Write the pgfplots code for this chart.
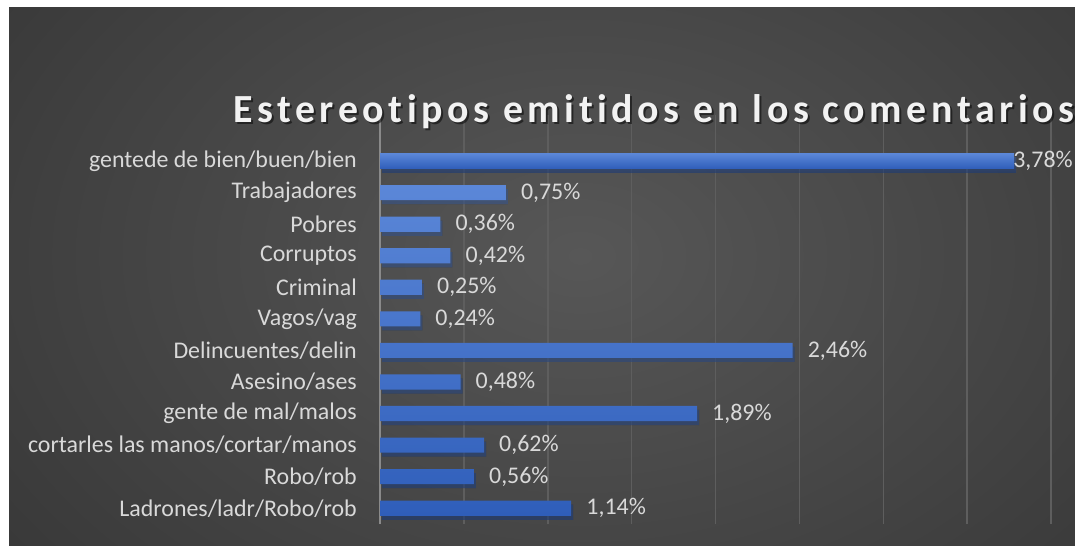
\documentclass[border=0pt]{standalone}
\usepackage{fontspec}
\setmainfont{Carlito}[Ligatures={NoCommon}]
\usepackage{pgfplots}
\pgfplotsset{compat=1.18}
\definecolor{bgin}{HTML}{575757}
\definecolor{bgout}{HTML}{262626}
\definecolor{bartop}{HTML}{5B87D8}
\definecolor{barbot}{HTML}{2F5EBA}
\definecolor{gridc}{HTML}{5E5E5E}
\definecolor{axisc}{HTML}{8A8A8A}
\definecolor{txt}{HTML}{D9D9D9}
\newcommand{\lblfont}{\fontsize{24}{26}\selectfont}
\newcommand{\ttlfont}{\fontsize{40}{44}\selectfont\bfseries
    \addfontfeature{LetterSpace=11.5,Ligatures=NoCommon}}

\begin{document}
\begin{tikzpicture}
\useasboundingbox (0,0) rectangle (1075bp,546bp);
\fill[white] (0,0) rectangle (1075bp,546bp);
\begin{scope}
  \clip (9bp,0) rectangle (1075bp,538bp);
  \fill[bgout] (9bp,0) rectangle (1075bp,538bp);
  \shade[inner color=bgin, outer color=bgout] (580bp,290bp) ellipse (1150bp and 800bp);
\end{scope}

\begin{axis}[
    at={(380bp,22bp)}, anchor=south west,
    scale only axis, width=671bp, height=409bp,
    xbar, bar width=0.48, bar shift=0pt,
    xmin=0, xmax=4, ymin=0.5, ymax=13.46,
    xtick={0.5,1,...,4}, xticklabels={},
    xmajorgrids, grid style={gridc, line width=1.5bp},
    extra x ticks={0}, extra x tick labels={},
    extra x tick style={grid style={axisc, line width=2bp}},
    ytick={1,...,12},
    yticklabels={Ladrones/ladr/Robo/rob, Robo/rob,
        cortarles las manos/cortar/manos, gente de mal/malos,
        Asesino/ases, Delincuentes/delin, Vagos/vag, Criminal,
        Corruptos, Pobres, Trabajadores, gentede de bien/buen/bien},
    major tick length=0pt,
    axis line style={draw=none},
    yticklabel style={font=\lblfont, text=txt, inner sep=0pt, xshift=-23bp},
    point meta=x,
    nodes near coords={\pgfmathprintnumber[fixed,fixed zerofill,precision=2,
        use comma,assume math mode=true]{\pgfplotspointmeta}\%},
    nodes near coords align=horizontal,
    every node near coord/.append style={font=\lblfont, text=txt,
        inner sep=0pt, xshift=15bp},
    clip=false,
]
\addplot[draw=none, top color=bartop, bottom color=barbot,
    preaction={fill=black, fill opacity=0.4,
        transform canvas={xshift=2bp, yshift=-4bp}}]
    coordinates {(1.14,1) (0.56,2) (0.62,3) (1.89,4) (0.48,5) (2.46,6)
                 (0.24,7) (0.25,8) (0.42,9) (0.36,10) (0.75,11)};
\addplot[draw=none, top color=bartop, bottom color=barbot,
    preaction={fill=black, fill opacity=0.4,
        transform canvas={xshift=2bp, yshift=-4bp}},
    every node near coord/.append style={xshift=-16bp}]
    coordinates {(3.78,12)};
\end{axis}

\node[anchor=base west, inner sep=0pt, text=black, opacity=0.5, font=\ttlfont]
    at (235bp,421bp) {Estereotipos emitidos en los comentarios};
\node[anchor=base west, inner sep=0pt, text=white!95!black, font=\ttlfont]
    at (233bp,423bp) {Estereotipos emitidos en los comentarios};
\end{tikzpicture}
\end{document}
